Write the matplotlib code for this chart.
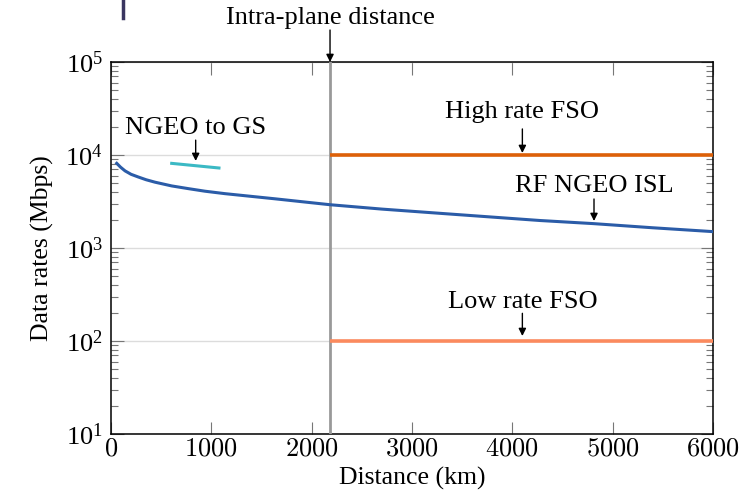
import matplotlib
matplotlib.use("Agg")
import matplotlib.pyplot as plt
import matplotlib.ticker as mticker
from matplotlib.lines import Line2D
import numpy as np

plt.rcParams["mathtext.fontset"] = "cm"
plt.rcParams["font.family"] = ["Liberation Serif", "DejaVu Serif"]

########################################################
# data

rf_dist = [57, 95, 140, 200, 272, 350, 439, 605, 770, 937, 1136, 1635, 2183, 2700, 3279, 3800, 4276, 4804, 5400, 6000]
rf_rate = [8140, 7400, 6750, 6200, 5800, 5420, 5100, 4650, 4350, 4080, 3840, 3380, 2920, 2620, 2360, 2150, 1975, 1830, 1650, 1500]

gs_dist = [605, 1076]
gs_rate = [8130, 7250]

intra_plane = 2183
fso_dist = [intra_plane, 6000]
high_fso = [1e4, 1e4]
low_fso = [1e2, 1e2]

xticks = [0, 1000, 2000, 3000, 4000, 5000, 6000]

########################################################

fig = plt.figure(figsize=(7.4, 4.9), dpi=100)
ax = fig.add_axes([111 / 740, 1 - 434 / 490, 602 / 740, 372 / 490])

ax.set_yscale("log")
ax.set_xlim(0, 6000)
ax.set_ylim(10, 1e5)

ax.grid(True, axis="y", which="major", color="#dcdcdc", lw=1.0)
ax.set_axisbelow(True)

ax.axvline(intra_plane, color="#999999", lw=2.0, zorder=3)
ax.plot(rf_dist, rf_rate, color="#2b5ca8", lw=2.2, zorder=4, solid_joinstyle="round")
ax.plot(gs_dist, gs_rate, color="#3bb9c4", lw=2.2, zorder=4)
ax.plot(fso_dist, high_fso, color="#dd6008", lw=2.6, zorder=4, solid_capstyle="butt")
ax.plot(fso_dist, low_fso, color="#fb8a5e", lw=2.6, zorder=4, solid_capstyle="butt")

ax.set_xticks(xticks)
ax.xaxis.set_major_formatter(mticker.FuncFormatter(lambda v, p: f"${int(v)}$"))
ax.yaxis.set_major_locator(mticker.LogLocator(base=10, numticks=10))
ax.yaxis.set_minor_locator(mticker.LogLocator(base=10, subs=np.arange(2, 10), numticks=10))
ax.yaxis.set_minor_formatter(mticker.NullFormatter())
ax.yaxis.set_major_formatter(mticker.LogFormatterMathtext())

ax.tick_params(axis="x", which="major", direction="in", top=True, length=9, width=0.8,
               color="#777777", labelsize=19, pad=3)
ax.tick_params(axis="y", which="major", direction="in", right=True, length=9, width=0.8,
               color="#777777", labelsize=19, pad=6)
ax.tick_params(axis="y", which="minor", direction="in", right=True, length=5, width=0.8,
               color="#777777")
for s in ax.spines.values():
    s.set_linewidth(1.1)

ax.set_xlabel("Distance (km)", fontsize=18.5, labelpad=5)
ax.set_ylabel("Data rates (Mbps)", fontsize=18.5, labelpad=8)

########################################################
# annotations (axes-fraction y, data x)

trans = ax.get_xaxis_transform()
arrow = dict(arrowstyle="-|>", color="black", lw=1.0, mutation_scale=11, shrinkA=0, shrinkB=0)


def label(text, x, y_text, y0, y1):
    ax.text(x, y_text, text, transform=trans, ha="center", va="center", fontsize=19, clip_on=False)
    ax.annotate("", xy=(x, y1), xytext=(x, y0), xycoords=trans, textcoords=trans,
                arrowprops=arrow, annotation_clip=False)


label("Intra-plane distance", intra_plane, 1.1183, 1.086, 1.0)
label("NGEO to GS", 844, 0.8226, 0.790, 0.734)
label("High rate FSO", 4100, 0.8656, 0.820, 0.7554)
label("RF NGEO ISL", 4814, 0.6667, 0.6317, 0.5726)
label("Low rate FSO", 4100, 0.3556, 0.3244, 0.2634)

# stray mark cropped in at the top left of the reference
fig.add_artist(Line2D([123.5 / 740, 123.5 / 740], [1.0, 1 - 18 / 490],
                      color="#3a3560", lw=2.5, transform=fig.transFigure))

fig.savefig("out.png", dpi=100)
